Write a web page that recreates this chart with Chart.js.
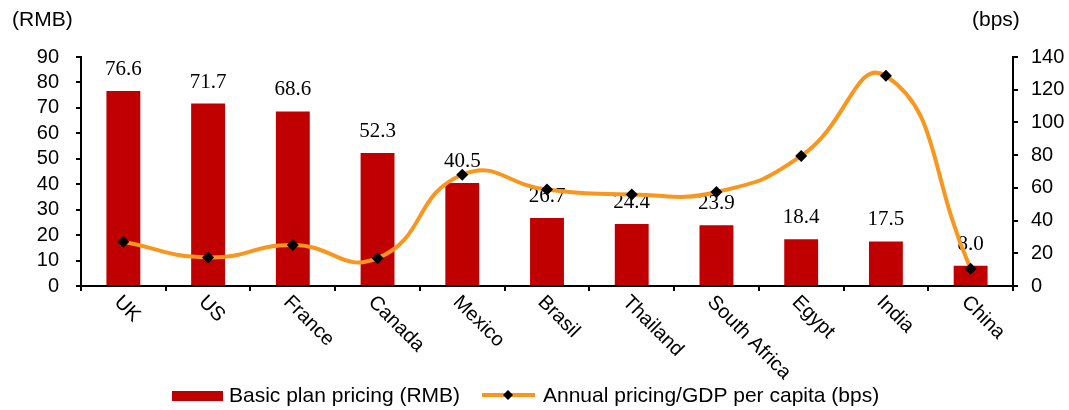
<!DOCTYPE html>
<html>
<head>
<meta charset="utf-8">
<script src="https://cdn.jsdelivr.net/npm/chart.js@4/dist/chart.umd.min.js"></script>
<style>
  body { margin:0; background:#fff; }
  #wrap { width:1069px; height:410px; position:relative; }
</style>
</head>
<body>
<div id="wrap"><canvas id="chart"></canvas></div>
<script>
const categories    = ['UK','US','France','Canada','Mexico','Brasil','Thailand','South Africa','Egypt','India','China'];
const pricingRMB    = [76.6, 71.7, 68.6, 52.3, 40.5, 26.7, 24.4, 23.9, 18.4, 17.5, 8.0];
const pricingGdpBps = [27, 17.5, 25, 17, 68, 59, 56, 57.5, 79.5, 128.5, 10.5];
const seriesNames   = ['Basic plan pricing (RMB)', 'Annual pricing/GDP per capita (bps)'];
const axisTitles    = ['(RMB)', '(bps)'];

const SANS  = "'Liberation Sans', Arial, sans-serif";
const SERIF = "'Liberation Serif', 'Times New Roman', serif";
const RED = '#C00000', ORANGE = '#F8961E';

// valeurs au-dessus des barres (avant la ligne)
const barLabels = {
  id: 'barLabels',
  afterDatasetDraw(chart, args) {
    if (args.index !== 0) return;
    const ctx = chart.ctx;
    ctx.save();
    ctx.font = '21px ' + SERIF;
    ctx.fillStyle = '#000';
    ctx.textAlign = 'center';
    ctx.textBaseline = 'alphabetic';
    args.meta.data.forEach((bar, i) => {
      ctx.fillText(pricingRMB[i].toFixed(1), bar.x, bar.y - 16);
    });
    ctx.restore();
  }
};

// étiquettes x tournées, titres d'axes, légende
const extras = {
  id: 'extras',
  afterDraw(chart) {
    const ctx = chart.ctx, x = chart.scales.x;
    ctx.save();
    ctx.fillStyle = '#000';
    ctx.font = '20px ' + SANS;
    ctx.textAlign = 'left';
    ctx.textBaseline = 'top';
    categories.forEach((c, i) => {
      ctx.save();
      ctx.translate(x.getPixelForValue(i) + 1, 292);
      ctx.rotate(Math.PI / 4);
      ctx.fillText(c, 0, 0);
      ctx.restore();
    });

    ctx.font = '21px ' + SANS;
    ctx.textBaseline = 'middle';
    ctx.fillText(axisTitles[0], 12, 20);
    ctx.fillText(axisTitles[1], 972, 20);

    // légende
    ctx.fillStyle = RED;
    ctx.fillRect(172, 391, 51, 10);
    ctx.fillStyle = '#000';
    ctx.fillText(seriesNames[0], 229, 396);
    ctx.strokeStyle = ORANGE;
    ctx.lineWidth = 4;
    ctx.beginPath(); ctx.moveTo(482, 395); ctx.lineTo(535, 395); ctx.stroke();
    ctx.fillStyle = '#000';
    ctx.beginPath();
    ctx.moveTo(508, 390); ctx.lineTo(513, 395); ctx.lineTo(508, 400); ctx.lineTo(503, 395);
    ctx.closePath(); ctx.fill();
    ctx.fillText(seriesNames[1], 543, 396);
    ctx.restore();
  }
};

const axisGrid = { display:true, drawOnChartArea:false, drawTicks:true, tickLength:5, color:'#000', lineWidth:2 };

new Chart(document.getElementById('chart'), {
  data: {
    labels: categories,
    datasets: [
      { type:'bar', label: seriesNames[0], data: pricingRMB, yAxisID:'y', order:1,
        backgroundColor: RED, barPercentage: 0.4, categoryPercentage: 1 },
      { type:'line', label: seriesNames[1], data: pricingGdpBps, yAxisID:'y1', order:0,
        borderColor: ORANGE, borderWidth: 4, tension: 0.5, fill:false,
        pointStyle:'rectRot', pointRadius:6, pointBackgroundColor:'#000', pointBorderColor:'#000',
        pointBorderWidth:0, clip:false }
    ]
  },
  options: {
    responsive:true, maintainAspectRatio:false, animation:false,
    layout: { padding: { top:57, left:0, right:0, bottom:0 } },
    plugins: { legend:{ display:false }, tooltip:{ enabled:false } },
    scales: {
      x: {
        offset:true,
        grid: { ...axisGrid, offset:true },
        border: { color:'#000', width:2 },
        ticks: { display:false },
        afterFit(s) { s.height = 124; }
      },
      y: {
        position:'left', min:0, max:90,
        grid: axisGrid,
        border: { color:'#000', width:2 },
        ticks: { stepSize:10, autoSkip:false, color:'#000', padding:17, font:{ family:SANS, size:20 } },
        afterFit(s) { s.width = 81; }
      },
      y1: {
        position:'right', min:0, max:140,
        grid: axisGrid,
        border: { color:'#000', width:2 },
        ticks: { stepSize:20, autoSkip:false, color:'#000', padding:13, font:{ family:SANS, size:20 } },
        afterFit(s) { s.width = 56; }
      }
    }
  },
  plugins: [barLabels, extras]
});
</script>
</body>
</html>
